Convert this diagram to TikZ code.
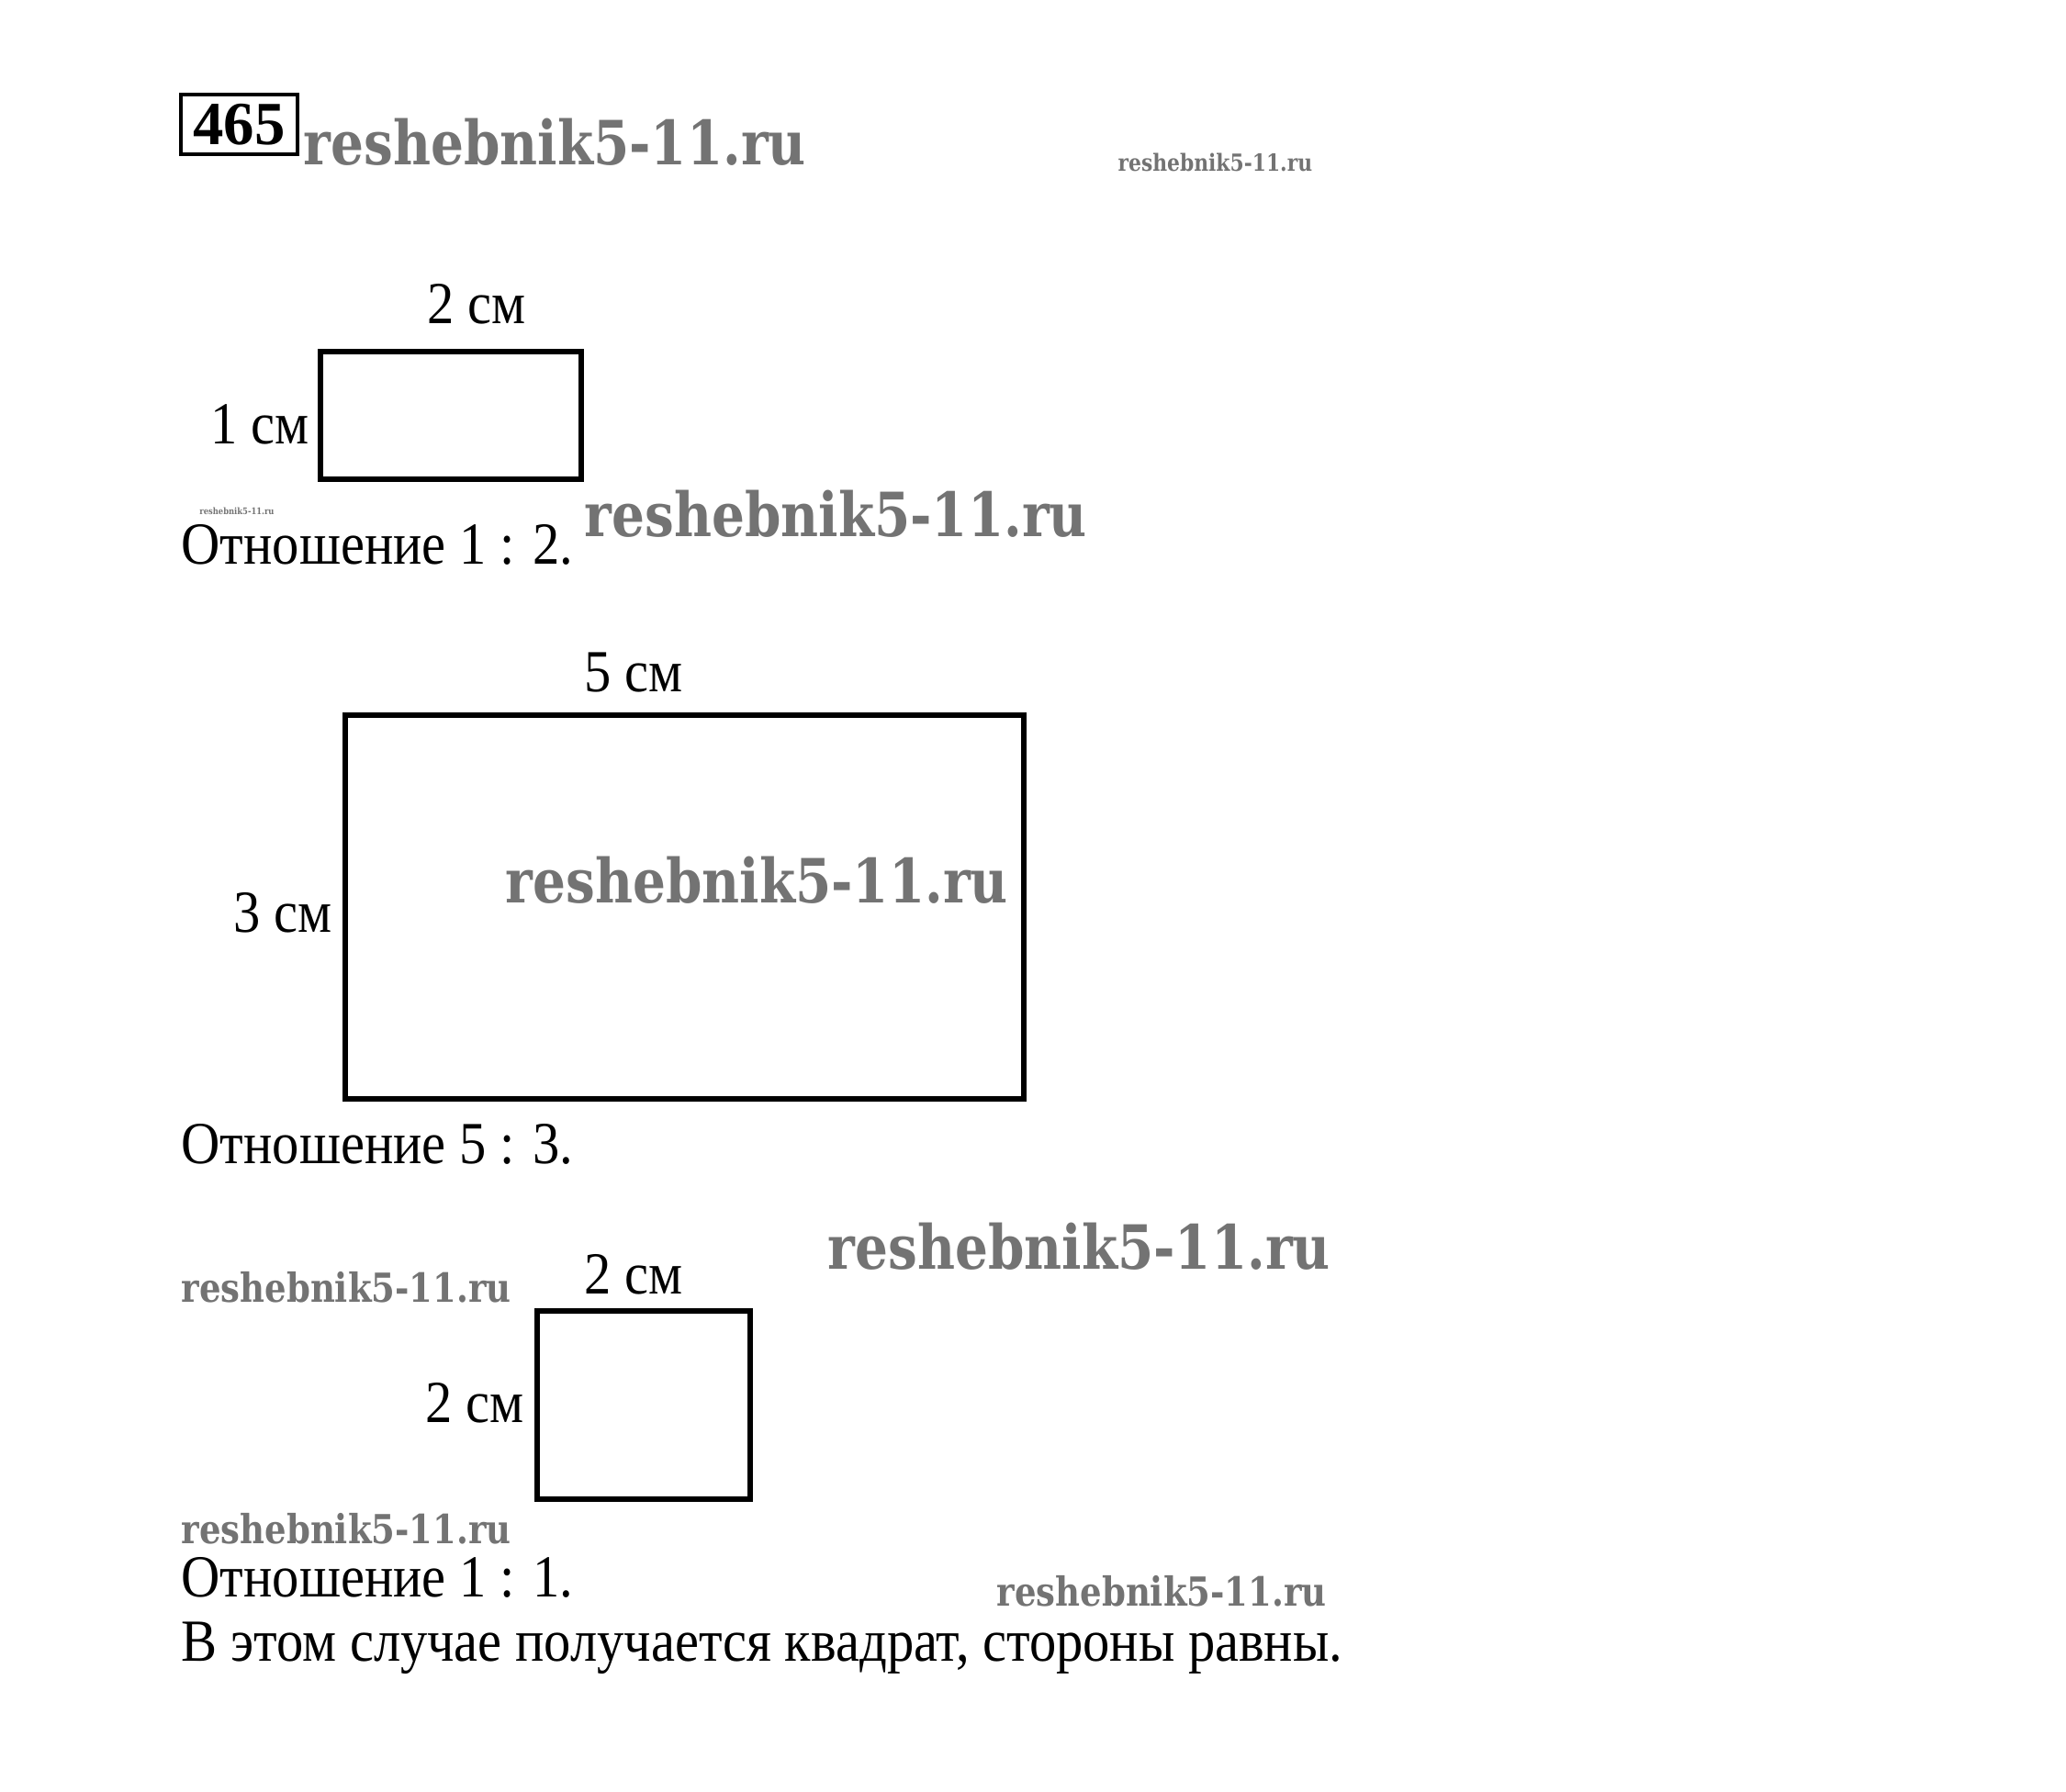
\documentclass[tikz,border=0pt]{standalone}
\usepackage{fontspec}
\setmainfont[FakeStretch=0.9]{Liberation Serif}
\newfontfamily\numfont{Liberation Serif}
\newfontfamily\wmfont[FakeStretch=0.85]{DejaVu Serif}

\begin{document}
\begin{tikzpicture}[
    figure/.style={rectangle, draw, line width=1.7pt, inner sep=0pt},
    dimtext/.style={font=\fontsize{18.5}{22}\selectfont, inner sep=0pt},
    answer/.style={font=\fontsize{18.5}{22}\selectfont, inner sep=0pt, anchor=west},
    watermark/.style={font=\wmfont\bfseries\fontsize{18.9}{21}\selectfont, text=black!55, inner sep=0pt},
    wm_mid/.style={watermark, font=\wmfont\bfseries\fontsize{12.4}{14}\selectfont},
    wm_small/.style={watermark, font=\wmfont\bfseries\fontsize{7.3}{8}\selectfont},
    wm_tiny/.style={watermark, font=\wmfont\bfseries\fontsize{2.8}{3}\selectfont}
  ]
  \useasboundingbox (0,0) rectangle (22.5,-19.51);

  % Task number
  \node[figure, line width=1.3pt, minimum width=1.27cm, minimum height=0.65cm,
        font=\numfont\bfseries\fontsize{19}{21}\selectfont] (task) at (2.605,-1.355) {465};
  \node[watermark, anchor=west] (wm1) at (3.30,-1.55) {reshebnik5-11.ru};
  \node[wm_small, anchor=west] (wm2) at (12.17,-1.77) {reshebnik5-11.ru};

  % First rectangle 2 x 1
  \node[figure, minimum width=2.84cm, minimum height=1.39cm] (rectA) at (4.91,-4.525) {};
  \node[dimtext] (rectA_top) at (5.19,-3.31) {2 см};
  \node[dimtext, anchor=east] (rectA_left) at (3.37,-4.62) {1 см};
  \node[wm_tiny] (wm3) at (2.58,-5.57) {reshebnik5-11.ru};
  \node[answer] (ansA) at (1.97,-5.93) {Отношение 1 : 2.};
  \node[watermark, anchor=west] (wm4) at (6.36,-5.60) {reshebnik5-11.ru};

  % Second rectangle 5 x 3
  \node[figure, minimum width=7.39cm, minimum height=4.18cm] (rectB) at (7.455,-9.88) {};
  \node[dimtext] (rectB_top) at (6.90,-7.33) {5 см};
  \node[dimtext, anchor=east] (rectB_left) at (3.62,-9.94) {3 см};
  \node[watermark, anchor=west] (wm5) at (5.50,-9.59) {reshebnik5-11.ru};
  \node[answer] (ansB) at (1.97,-12.46) {Отношение 5 : 3.};

  % Third rectangle 2 x 2
  \node[watermark, anchor=west] (wm6) at (9.01,-13.58) {reshebnik5-11.ru};
  \node[wm_mid, anchor=west] (wm7) at (1.97,-14.02) {reshebnik5-11.ru};
  \node[figure, minimum width=2.32cm, minimum height=2.05cm] (rectC) at (7.01,-15.305) {};
  \node[dimtext] (rectC_top) at (6.90,-13.88) {2 см};
  \node[dimtext, anchor=east] (rectC_left) at (5.71,-15.28) {2 см};
  \node[wm_mid, anchor=west] (wm8) at (1.97,-16.65) {reshebnik5-11.ru};
  \node[answer] (ansC) at (1.97,-17.18) {Отношение 1 : 1.};
  \node[wm_mid, anchor=west] (wm9) at (10.85,-17.33) {reshebnik5-11.ru};
  \node[answer] (concl) at (1.97,-17.95) {В этом случае получается квадрат, стороны равны.};

\end{tikzpicture}
\end{document}
